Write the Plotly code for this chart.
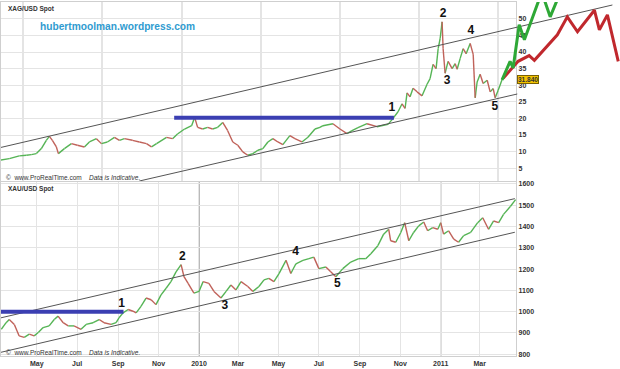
import plotly.graph_objects as go
import pandas as pd

W, H = 620, 369

# ---------------- Silver, XAG/USD (top panel); time as decimal years ----------------
ag_years = [2005.696, 2005.823, 2005.949, 2006.038, 2006.101, 2006.165, 2006.228, 2006.291,
            2006.329, 2006.367, 2006.418, 2006.443, 2006.519, 2006.608, 2006.684, 2006.772,
            2006.835, 2006.924, 2006.987, 2007.063, 2007.152, 2007.215, 2007.278, 2007.380,
            2007.468, 2007.557, 2007.620, 2007.684, 2007.810, 2007.886, 2007.949, 2008.038,
            2008.127, 2008.165, 2008.203, 2008.266, 2008.329, 2008.392, 2008.456, 2008.519,
            2008.582, 2008.646, 2008.709, 2008.772, 2008.835, 2008.899, 2008.962, 2009.025,
            2009.089, 2009.152, 2009.215, 2009.278, 2009.367, 2009.430, 2009.519, 2009.595,
            2009.684, 2009.747, 2009.785, 2009.911, 2010.000, 2010.089, 2010.152, 2010.228,
            2010.342, 2010.468, 2010.608, 2010.671, 2010.734, 2010.785, 2010.823, 2010.848,
            2010.886, 2010.924, 2010.975, 2011.038, 2011.101, 2011.139, 2011.177, 2011.215,
            2011.241, 2011.266, 2011.291, 2011.304, 2011.329, 2011.367, 2011.418, 2011.456,
            2011.481, 2011.519, 2011.557, 2011.595, 2011.646, 2011.684, 2011.709, 2011.734,
            2011.772, 2011.810, 2011.861, 2011.899, 2011.937, 2011.962, 2012.000, 2012.051]
ag_vals = [7.4, 7.9, 8.7, 8.9, 9.1, 9.4, 10.9, 13.4,
           14.6, 13.4, 11.4, 9.4, 10.9, 12.4, 11.9, 11.4,
           12.9, 13.9, 12.4, 12.9, 14.3, 13.4, 13.9, 13.4,
           12.9, 12.4, 11.4, 12.4, 14.3, 13.9, 15.3, 16.8,
           17.8, 20.3, 17.3, 16.8, 17.3, 16.8, 17.3, 18.8,
           16.3, 12.9, 11.9, 9.9, 8.9, 9.4, 10.4, 10.9,
           12.9, 13.9, 12.9, 12.1, 14.8, 13.9, 12.9, 14.3,
           16.8, 17.3, 17.8, 18.4, 16.8, 15.4, 16.3, 17.2,
           18.4, 17.5, 18.2, 20.0, 22.0, 24.4, 23.0, 27.7,
           26.5, 29.1, 28.0, 26.8, 30.3, 32.0, 36.3, 35.0,
           41.0, 44.0, 49.1, 41.0, 33.6, 37.2, 35.0, 36.5,
           34.8, 38.0, 41.0, 39.5, 42.6, 39.3, 26.2, 31.0,
           33.3, 30.5, 31.5, 28.0, 29.0, 26.2, 28.5, 31.8]

ag_green_dates = ["2012-01-19", "2012-02-25", "2012-03-10", "2012-04-07", "2012-05-01",
                  "2012-07-20", "2012-08-28", "2012-10-14"]
ag_green_vals = [31.6, 37.2, 35.2, 48.2, 43.7, 58.0, 50.6, 58.0]

ag_red_dates = ["2012-01-24", "2012-04-02", "2012-05-23", "2012-06-16", "2012-09-30",
                "2012-11-15", "2013-01-01", "2013-03-20", "2013-04-12", "2013-05-19", "2013-07-08"]
ag_red_vals = [32.1, 37.2, 38.9, 37.5, 45.2, 50.6, 46.1, 52.6, 46.7, 51.2, 37.2]

ag_upper_dates = ["2005-09-20", "2013-06-11"]
ag_upper_vals = [11.26, 54.17]
ag_lower_dates = ["2007-06-20", "2012-03-29"]
ag_lower_vals = [1.13, 27.35]
ag_blue_dates = ["2007-11-28", "2010-09-07"]
ag_blue_vals = [20.2, 20.2]

ag_wave_labels = ["1", "2", "3", "4", "5"]
ag_wave_dates = ["2010-08-28", "2011-04-22", "2011-05-10", "2011-08-28", "2011-12-17"]
ag_wave_vals = [23.2, 51.5, 31.2, 46.4, 23.5]
ag_last_price = "31.840"
ag_last_val = 31.7
ag_yticks = [5, 10, 15, 20, 25, 30, 35, 40, 45, 50, 55]

# ---------------- Gold, XAU/USD (bottom panel); time as decimal years ----------------
au_years = [2009.182, 2009.202, 2009.215, 2009.236, 2009.256, 2009.277, 2009.298, 2009.318,
            2009.335, 2009.355, 2009.380, 2009.401, 2009.417, 2009.438, 2009.459, 2009.483,
            2009.512, 2009.533, 2009.562, 2009.587, 2009.607, 2009.636, 2009.657, 2009.669,
            2009.686, 2009.707, 2009.727, 2009.740, 2009.760, 2009.781, 2009.802, 2009.822,
            2009.843, 2009.864, 2009.884, 2009.905, 2009.926, 2009.938, 2009.955, 2009.979,
            2010.000, 2010.017, 2010.041, 2010.062, 2010.091, 2010.112, 2010.132, 2010.153,
            2010.174, 2010.202, 2010.223, 2010.248, 2010.269, 2010.289, 2010.310, 2010.331,
            2010.360, 2010.380, 2010.401, 2010.430, 2010.455, 2010.475, 2010.496, 2010.525,
            2010.545, 2010.566, 2010.595, 2010.628, 2010.661, 2010.690, 2010.711, 2010.740,
            2010.764, 2010.785, 2010.793, 2010.814, 2010.835, 2010.851, 2010.868, 2010.888,
            2010.909, 2010.930, 2010.946, 2010.967, 2010.988, 2011.000, 2011.012, 2011.033,
            2011.054, 2011.074, 2011.095, 2011.124, 2011.153, 2011.174, 2011.198, 2011.219,
            2011.240, 2011.260, 2011.289, 2011.310]
au_vals = [917, 948, 963, 940, 886, 879, 894, 886,
           902, 925, 933, 963, 979, 948, 933, 933,
           917, 940, 948, 963, 948, 940, 948, 971,
           994, 1010, 1002, 994, 1025, 1064, 1056, 1033,
           1079, 1110, 1141, 1187, 1221, 1164, 1133, 1087,
           1095, 1141, 1133, 1095, 1064, 1095, 1125, 1102,
           1141, 1118, 1095, 1118, 1149, 1156, 1141, 1179,
           1241, 1179, 1225, 1241, 1249, 1256, 1202, 1210,
           1187, 1164, 1202, 1233, 1249, 1249, 1272, 1310,
           1364, 1387, 1333, 1326, 1372, 1418, 1333, 1372,
           1403, 1421, 1380, 1395, 1387, 1418, 1364, 1380,
           1341, 1326, 1357, 1372, 1418, 1441, 1387, 1426,
           1418, 1457, 1495, 1526]

au_upper_dates = ["2009-03-08", "2011-04-23"]
au_upper_vals = [971, 1531]
au_lower_dates = ["2009-03-08", "2011-04-23"]
au_lower_vals = [809, 1373]
au_blue_dates = ["2009-03-08", "2009-09-09"]
au_blue_vals = [1000, 1000]

au_wave_labels = ["1", "2", "3", "4", "5"]
au_wave_dates = ["2009-09-06", "2009-12-07", "2010-02-09", "2010-05-27", "2010-07-29"]
au_wave_vals = [1036, 1258, 1027, 1281, 1128]

au_tick_dates = ["2009-05-01", "2009-07-01", "2009-09-01", "2009-11-01", "2010-01-01", "2010-03-01",
                 "2010-05-01", "2010-07-01", "2010-09-01", "2010-11-01", "2011-01-01", "2011-03-01"]
au_tick_text = ["May", "Jul", "Sep", "Nov", "2010", "Mar", "May", "Jul", "Sep", "Nov", "2011", "Mar"]
au_year_lines = ["2010-01-01", "2011-01-01"]
au_yticks = [800, 900, 1000, 1100, 1200, 1300, 1400, 1500, 1600]

assert len(ag_years) == len(ag_vals) and len(au_years) == len(au_vals)


def yr_to_date(y):
    year = int(y)
    start = pd.Timestamp(year=year, month=1, day=1)
    end = pd.Timestamp(year=year + 1, month=1, day=1)
    return start + (end - start) * (y - year)


ag_dates = [yr_to_date(y) for y in ag_years]
au_dates = [yr_to_date(y) for y in au_years]

# ---------------- layout geometry ----------------
plot_right = 516 / W
top_dom = [1 - 181 / H, 1.0]
bot_dom = [1 - 358 / H, 1 - 182 / H]
ag_x0, ag_x1 = pd.Timestamp("2005-09-20"), pd.Timestamp("2012-03-24")
ag_x3 = ag_x0 + (ag_x1 - ag_x0) * (1 / plot_right)
ag_yr = [1.13, 55.07]
au_x0, au_x1 = pd.Timestamp("2009-03-08"), pd.Timestamp("2011-04-25")
au_yr = [791, 1609]

CANDLE_G = "#55b455"
CANDLE_R = "#c0625a"


def split_updown(dates, vals):
    gx, gy, rx, ry = [], [], [], []
    for i in range(len(vals) - 1):
        if vals[i + 1] >= vals[i]:
            gx += [dates[i], dates[i + 1], None]
            gy += [vals[i], vals[i + 1], None]
        else:
            rx += [dates[i], dates[i + 1], None]
            ry += [vals[i], vals[i + 1], None]
    return gx, gy, rx, ry


fig = go.Figure()

# invisible anchor trace for the top grid axes
fig.add_trace(go.Scatter(x=[ag_dates[0]], y=[ag_vals[0]], xaxis="x", yaxis="y",
                         mode="markers", marker=dict(opacity=0), hoverinfo="skip", showlegend=False))

# top panel (drawn on the wide overlay subplot x3/y3 so projections pass the axis)
gx, gy, rx, ry = split_updown(ag_dates, ag_vals)
fig.add_trace(go.Scatter(x=gx, y=gy, xaxis="x3", yaxis="y3", mode="lines",
                         line=dict(color=CANDLE_G, width=1.4), showlegend=False))
fig.add_trace(go.Scatter(x=rx, y=ry, xaxis="x3", yaxis="y3", mode="lines",
                         line=dict(color=CANDLE_R, width=1.4), showlegend=False))
fig.add_trace(go.Scatter(x=ag_upper_dates, y=ag_upper_vals, xaxis="x3", yaxis="y3", mode="lines",
                         line=dict(color="#555555", width=1), showlegend=False))
fig.add_trace(go.Scatter(x=ag_lower_dates, y=ag_lower_vals, xaxis="x3", yaxis="y3", mode="lines",
                         line=dict(color="#555555", width=1), showlegend=False))
fig.add_trace(go.Scatter(x=ag_blue_dates, y=ag_blue_vals, xaxis="x3", yaxis="y3", mode="lines",
                         line=dict(color="#3b3fb2", width=4), showlegend=False))
fig.add_trace(go.Scatter(x=ag_red_dates, y=ag_red_vals, xaxis="x3", yaxis="y3", mode="lines",
                         line=dict(color="#c0282d", width=3), showlegend=False))
fig.add_trace(go.Scatter(x=ag_green_dates, y=ag_green_vals, xaxis="x3", yaxis="y3", mode="lines",
                         line=dict(color="#2ea836", width=3), showlegend=False))
fig.add_trace(go.Scatter(x=ag_wave_dates, y=ag_wave_vals, xaxis="x3", yaxis="y3", mode="text",
                         text=ag_wave_labels, textposition="middle center",
                         textfont=dict(family="Arial", size=12, color="#111111", weight="bold"),
                         showlegend=False))

# bottom panel
gx, gy, rx, ry = split_updown(au_dates, au_vals)
fig.add_trace(go.Scatter(x=gx, y=gy, xaxis="x2", yaxis="y2", mode="lines",
                         line=dict(color=CANDLE_G, width=1.4), showlegend=False))
fig.add_trace(go.Scatter(x=rx, y=ry, xaxis="x2", yaxis="y2", mode="lines",
                         line=dict(color=CANDLE_R, width=1.4), showlegend=False))
fig.add_trace(go.Scatter(x=au_upper_dates, y=au_upper_vals, xaxis="x2", yaxis="y2", mode="lines",
                         line=dict(color="#555555", width=1), showlegend=False))
fig.add_trace(go.Scatter(x=au_lower_dates, y=au_lower_vals, xaxis="x2", yaxis="y2", mode="lines",
                         line=dict(color="#555555", width=1), showlegend=False))
fig.add_trace(go.Scatter(x=au_blue_dates, y=au_blue_vals, xaxis="x2", yaxis="y2", mode="lines",
                         line=dict(color="#3b3fb2", width=4), showlegend=False))
fig.add_trace(go.Scatter(x=au_wave_dates, y=au_wave_vals, xaxis="x2", yaxis="y2", mode="text",
                         text=au_wave_labels, textposition="middle center",
                         textfont=dict(family="Arial", size=12, color="#111111", weight="bold"),
                         showlegend=False))

tickfont = dict(family="Arial", size=7, color="#333333", weight="bold")
grid = "#e4e4e4"

fig.update_layout(
    width=W, height=H,
    margin=dict(l=0, r=0, t=0, b=0),
    paper_bgcolor="white",
    plot_bgcolor="rgba(0,0,0,0)",
    showlegend=False,
    hovermode=False,
    xaxis=dict(domain=[0, plot_right], anchor="y", type="date",
               range=[ag_x0, ag_x1], tick0="2006-01-01", dtick="M12",
               showticklabels=False, ticks="", showgrid=True, gridcolor=grid, gridwidth=2,
               showline=True, linecolor="#cfcfcf", mirror=True, zeroline=False),
    yaxis=dict(domain=top_dom, anchor="x", side="right", range=ag_yr,
               tickvals=ag_yticks, tickfont=tickfont, ticks="",
               showgrid=True, gridcolor=grid, gridwidth=1,
               showline=True, linecolor="#cfcfcf", mirror=True, zeroline=False),
    xaxis3=dict(domain=[0, 1], anchor="y3", type="date", range=[ag_x0, ag_x3], visible=False),
    yaxis3=dict(domain=top_dom, anchor="x3", range=ag_yr, visible=False),
    xaxis2=dict(domain=[0, plot_right], anchor="y2", type="date",
                range=[au_x0, au_x1], tickvals=au_tick_dates, ticktext=au_tick_text,
                tickfont=tickfont, ticks="", ticklabelstandoff=0,
                showgrid=True, gridcolor=grid, gridwidth=1,
                showline=True, linecolor="#cfcfcf", mirror=True, zeroline=False),
    yaxis2=dict(domain=bot_dom, anchor="x2", side="right", range=au_yr,
                tickvals=au_yticks, tickfont=tickfont, ticks="",
                showgrid=True, gridcolor=grid, gridwidth=1,
                showline=True, linecolor="#cfcfcf", mirror=True, zeroline=False),
)

for d in au_year_lines:
    fig.add_shape(type="line", xref="x2", yref="y2 domain", x0=d, x1=d, y0=0, y1=1,
                  line=dict(color="#8a8a8a", width=1.2), layer="below")

small = dict(family="Arial", size=6.5, color="#333333")
fig.add_annotation(xref="paper", yref="paper", x=5 / W, y=1 - 1 / H, xanchor="left", yanchor="top",
                   text="XAG/USD Spot", showarrow=False, font=dict(small, weight="bold"))
fig.add_annotation(xref="paper", yref="paper", x=5 / W, y=1 - 183 / H, xanchor="left", yanchor="top",
                   text="XAU/USD Spot", showarrow=False, font=dict(small, weight="bold"))
for yy in (177, 354):
    fig.add_annotation(xref="paper", yref="paper", x=3 / W, y=1 - yy / H, xanchor="left",
                       yanchor="middle", showarrow=False, font=small,
                       text="©  www.ProRealTime.com    <i>Data is Indicative.</i>")
fig.add_annotation(xref="paper", yref="paper", x=117 / W, y=1 - 25 / H, xanchor="center",
                   yanchor="middle", showarrow=False, text="hubertmoolman.wordpress.com",
                   font=dict(family="Arial", size=10.2, color="#2f9bd0", weight="bold"))
fig.add_annotation(xref="paper", yref="y", x=517 / W, y=ag_last_val, xanchor="left",
                   yanchor="middle", showarrow=False, text=ag_last_price,
                   bgcolor="#f2c200", bordercolor="#7a6000", borderwidth=1, borderpad=0,
                   font=dict(family="Arial", size=6.5, color="#333333", weight="bold"))

fig.write_html("out.html", config={"displayModeBar": False, "staticPlot": True},
               post_script="document.body.style.margin='0';")
